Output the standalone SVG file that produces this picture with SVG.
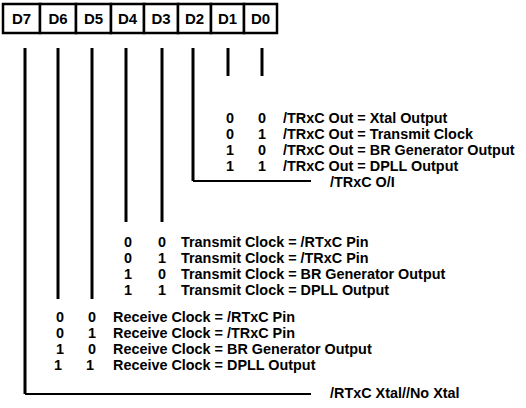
<svg xmlns="http://www.w3.org/2000/svg" width="526" height="408" viewBox="0 0 526 408">
<style>
.cell{fill:#fff;stroke:#000;stroke-width:2.5}
.lbl{font-family:"Liberation Sans",Arial,sans-serif;font-weight:bold;font-size:14.4px;fill:#000}
.hd{text-anchor:middle;font-size:15px}
.bit{text-anchor:middle}
.wire{fill:none;stroke:#000;stroke-width:3;stroke-linejoin:miter}
.hwire{fill:none;stroke:#000;stroke-width:2.2}
</style>
<rect width="526" height="408" fill="#fff"/>
<g id="register">
  <g id="d7"><rect class="cell" x="3" y="4" width="37" height="29"/><text class="lbl hd" x="21.5" y="24">D7</text></g>
  <g id="d6"><rect class="cell" x="40" y="4" width="36" height="29"/><text class="lbl hd" x="58" y="24">D6</text></g>
  <g id="d5"><rect class="cell" x="76" y="4" width="35" height="29"/><text class="lbl hd" x="93.5" y="24">D5</text></g>
  <g id="d4"><rect class="cell" x="111" y="4" width="33" height="29"/><text class="lbl hd" x="127.5" y="24">D4</text></g>
  <g id="d3"><rect class="cell" x="144" y="4" width="34" height="29"/><text class="lbl hd" x="161" y="24">D3</text></g>
  <g id="d2"><rect class="cell" x="178" y="4" width="33" height="29"/><text class="lbl hd" x="194.5" y="24">D2</text></g>
  <g id="d1"><rect class="cell" x="211" y="4" width="33" height="29"/><text class="lbl hd" x="227.5" y="24">D1</text></g>
  <g id="d0"><rect class="cell" x="244" y="4" width="33" height="29"/><text class="lbl hd" x="260.5" y="24">D0</text></g>
</g>
<g id="connectors">
  <path class="wire" d="M25,48 V394"/>
  <path class="hwire" d="M25,394 H311"/>
  <path class="wire" d="M58,48 V299"/>
  <path class="wire" d="M92,48 V299"/>
  <path class="wire" d="M126,48 V222"/>
  <path class="wire" d="M162,48 V222"/>
  <path class="wire" d="M193,48 V181"/>
  <path class="hwire" d="M193,181 H311"/>
  <path class="wire" d="M228,48 V76"/>
  <path class="wire" d="M262,48 V76"/>
</g>
<g id="trxc-out-table">
  <text class="lbl bit" x="230" y="123">0</text><text class="lbl bit" x="262" y="123">0</text><text class="lbl" x="283" y="123">/TRxC Out = Xtal Output</text>
  <text class="lbl bit" x="230" y="139">0</text><text class="lbl bit" x="262" y="139">1</text><text class="lbl" x="283" y="139">/TRxC Out = Transmit Clock</text>
  <text class="lbl bit" x="230" y="155">1</text><text class="lbl bit" x="262" y="155">0</text><text class="lbl" x="283" y="155">/TRxC Out = BR Generator Output</text>
  <text class="lbl bit" x="230" y="171">1</text><text class="lbl bit" x="262" y="171">1</text><text class="lbl" x="283" y="171">/TRxC Out = DPLL Output</text>
</g>
<g id="trxc-oi"><text class="lbl" x="330" y="187">/TRxC O/I</text></g>
<g id="transmit-table">
  <text class="lbl bit" x="128" y="247">0</text><text class="lbl bit" x="162" y="247">0</text><text class="lbl" x="181" y="247">Transmit Clock = /RTxC Pin</text>
  <text class="lbl bit" x="128" y="263">0</text><text class="lbl bit" x="162" y="263">1</text><text class="lbl" x="181" y="263">Transmit Clock = /TRxC Pin</text>
  <text class="lbl bit" x="128" y="279">1</text><text class="lbl bit" x="162" y="279">0</text><text class="lbl" x="181" y="279">Transmit Clock = BR Generator Output</text>
  <text class="lbl bit" x="128" y="295">1</text><text class="lbl bit" x="162" y="295">1</text><text class="lbl" x="181" y="295">Transmit Clock = DPLL Output</text>
</g>
<g id="receive-table">
  <text class="lbl bit" x="60" y="322">0</text><text class="lbl bit" x="92" y="322">0</text><text class="lbl" x="113" y="322">Receive Clock = /RTxC Pin</text>
  <text class="lbl bit" x="60" y="338">0</text><text class="lbl bit" x="92" y="338">1</text><text class="lbl" x="113" y="338">Receive Clock = /TRxC Pin</text>
  <text class="lbl bit" x="60" y="354">1</text><text class="lbl bit" x="92" y="354">0</text><text class="lbl" x="113" y="354">Receive Clock = BR Generator Output</text>
  <text class="lbl bit" x="58" y="370">1</text><text class="lbl bit" x="90" y="370">1</text><text class="lbl" x="113" y="370">Receive Clock = DPLL Output</text>
</g>
<g id="rtxc-xtal"><text class="lbl" x="330" y="398">/RTxC Xtal//No Xtal</text></g>
</svg>
